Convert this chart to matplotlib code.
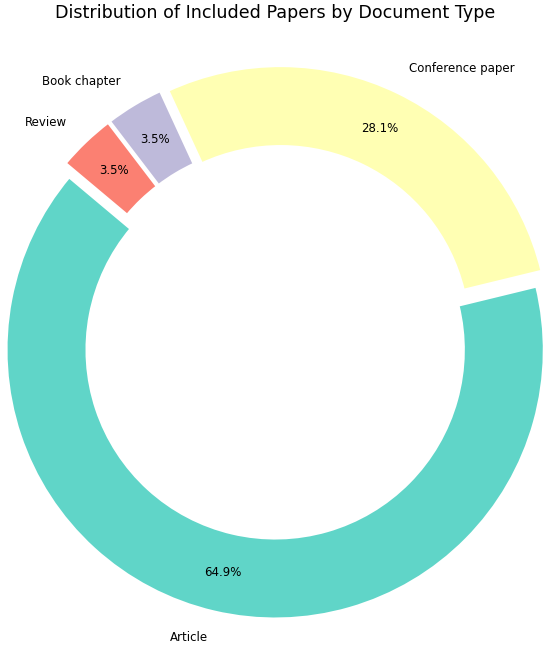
import matplotlib
matplotlib.use("Agg")
import matplotlib.pyplot as plt

# document types and paper counts (57 included papers)
doc_types = ["Article", "Conference paper", "Book chapter", "Review"]
counts = [37, 16, 2, 2]
colors = ["#60d5c8", "#ffffb3", "#bebada", "#fb8072"]

fig = plt.figure(figsize=(5.5, 6.48), dpi=100)
ax = fig.add_axes([0, 0, 1, 1])

wedges, texts, autotexts = ax.pie(
    counts,
    labels=doc_types,
    colors=colors,
    autopct="%1.1f%%",
    startangle=140,
    explode=[0.03] * len(counts),
    pctdistance=0.85,
    labeldistance=1.1,
    wedgeprops=dict(width=0.3, edgecolor="white", linewidth=2),
    textprops=dict(fontsize=8.5),
)

ax.set_xlim(-277 / 269, 273 / 269)
ax.set_ylim(-306 / 269, 342 / 269)
ax.set_aspect("equal")
ax.axis("off")

fig.text(0.5, 1 - 18 / 648, "Distribution of Included Papers by Document Type",
         ha="center", va="baseline", fontsize=12.6)

fig.savefig("out.png", dpi=100)
